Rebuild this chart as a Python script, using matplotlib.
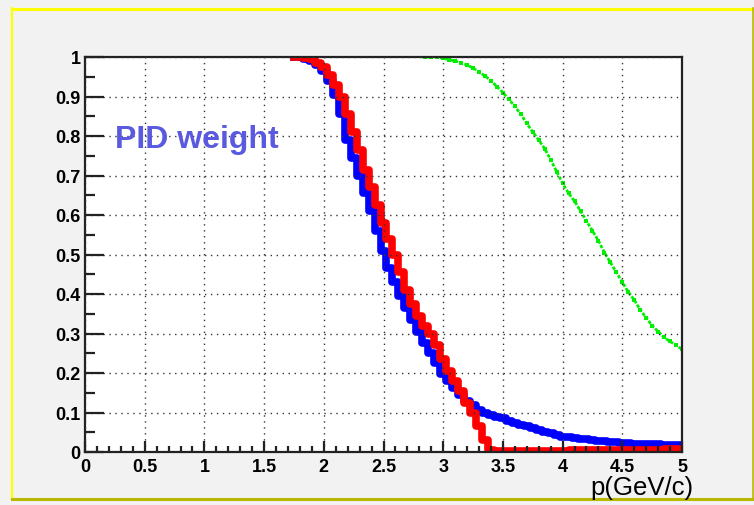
import matplotlib.pyplot as plt
from matplotlib.lines import Line2D
from matplotlib.ticker import MultipleLocator, FixedLocator, FixedFormatter

# momentum bins (GeV/c)
p_blue = [1.75, 1.80, 1.85, 1.90, 1.95, 2.00, 2.05, 2.10, 2.15, 2.20,
          2.25, 2.30, 2.35, 2.40, 2.45, 2.50, 2.55, 2.60, 2.65, 2.70,
          2.75, 2.80, 2.85, 2.90, 2.95, 3.00, 3.05, 3.10, 3.15, 3.20,
          3.25, 3.30, 3.35, 3.40, 3.45, 3.50, 3.55, 3.60, 3.65, 3.70,
          3.75, 3.80, 3.85, 3.90, 3.95, 4.00, 4.05, 4.10, 4.15, 4.20,
          4.25, 4.30, 4.35, 4.40, 4.45, 4.50, 4.55, 4.60, 4.65, 4.70,
          4.75, 4.80, 4.85, 4.90, 4.95, 5.00]
w_blue = [1.0, 1.0, 0.995, 0.99, 0.98, 0.965, 0.94, 0.905, 0.855, 0.79,
          0.745, 0.70, 0.655, 0.61, 0.56, 0.51, 0.465, 0.43, 0.395, 0.365,
          0.335, 0.305, 0.275, 0.25, 0.225, 0.198, 0.18, 0.162, 0.145, 0.13,
          0.118, 0.107, 0.099, 0.093, 0.089, 0.086, 0.079, 0.074, 0.069, 0.065,
          0.061, 0.055, 0.05, 0.047, 0.043, 0.039, 0.037, 0.035, 0.034, 0.032,
          0.03, 0.028, 0.027, 0.026, 0.025, 0.023, 0.022, 0.021, 0.02, 0.02,
          0.019, 0.019, 0.018, 0.018, 0.017, 0.018]

p_red = [1.75, 1.80, 1.85, 1.90, 1.95, 2.00, 2.05, 2.10, 2.15, 2.20,
         2.25, 2.30, 2.35, 2.40, 2.45, 2.50, 2.55, 2.60, 2.65, 2.70,
         2.75, 2.80, 2.85, 2.90, 2.95, 3.00, 3.05, 3.10, 3.15, 3.20,
         3.25, 3.30, 3.35, 3.40, 3.45, 3.50, 3.60, 3.70, 3.80, 3.90,
         4.00, 4.10, 4.20, 4.30, 4.40, 4.50, 4.60, 4.70, 4.80, 4.90, 5.00]
w_red = [1.0, 1.0, 0.998, 0.995, 0.985, 0.975, 0.955, 0.93, 0.90, 0.855,
         0.81, 0.765, 0.715, 0.67, 0.625, 0.58, 0.54, 0.50, 0.455, 0.41,
         0.375, 0.345, 0.32, 0.30, 0.27, 0.235, 0.205, 0.18, 0.155, 0.125,
         0.10, 0.065, 0.03, 0.006, 0.003, 0.003, 0.003, 0.003, 0.003, 0.003,
         0.003, 0.004, 0.004, 0.005, 0.005, 0.006, 0.006, 0.006, 0.006, 0.007, 0.007]

p_green = [2.85, 2.90, 2.95, 3.00, 3.05, 3.10, 3.15, 3.20, 3.25, 3.30,
           3.35, 3.40, 3.45, 3.50, 3.55, 3.60, 3.65, 3.70, 3.75, 3.80,
           3.85, 3.90, 3.95, 4.00, 4.05, 4.10, 4.15, 4.20, 4.25, 4.30,
           4.35, 4.40, 4.45, 4.50, 4.55, 4.60, 4.65, 4.70, 4.75, 4.80,
           4.85, 4.90, 4.95, 5.00]
w_green = [1.0, 1.0, 1.0, 0.997, 0.993, 0.99, 0.985, 0.98, 0.972, 0.962,
           0.952, 0.94, 0.925, 0.91, 0.893, 0.875, 0.855, 0.832, 0.81, 0.79,
           0.768, 0.74, 0.71, 0.68, 0.655, 0.635, 0.61, 0.585, 0.56, 0.535,
           0.505, 0.48, 0.455, 0.43, 0.405, 0.385, 0.36, 0.34, 0.32, 0.305,
           0.29, 0.28, 0.27, 0.26]

xtick_vals = [0, 0.5, 1, 1.5, 2, 2.5, 3, 3.5, 4, 4.5, 5]
xtick_labels = ['0', '0.5', '1', '1.5', '2', '2.5', '3', '3.5', '4', '4.5', '5']
ytick_vals = [0, 0.1, 0.2, 0.3, 0.4, 0.5, 0.6, 0.7, 0.8, 0.9, 1]
ytick_labels = ['0', '0.1', '0.2', '0.3', '0.4', '0.5', '0.6', '0.7', '0.8', '0.9', '1']

plt.rcParams['font.family'] = ['Liberation Sans', 'DejaVu Sans']

W, H = 754, 506
fig = plt.figure(figsize=(W / 100, H / 100), dpi=100, facecolor='#f2f2f2')

# canvas frame: bright top/left, dark bottom/right
fig.add_artist(Line2D([12 / W, 753 / W], [1 - 9.5 / H, 1 - 9.5 / H],
                      transform=fig.transFigure, color='#ffff00', lw=2.2))
fig.add_artist(Line2D([12 / W, 12 / W], [1 - 9 / H, 1 - 500 / H],
                      transform=fig.transFigure, color='#ffff00', lw=1.6))
fig.add_artist(Line2D([12 / W, 753 / W], [1 - 500 / H, 1 - 500 / H],
                      transform=fig.transFigure, color='#b8b800', lw=2.2))
fig.add_artist(Line2D([753 / W, 753 / W], [1 - 9 / H, 1 - 500 / H],
                      transform=fig.transFigure, color='#b8b800', lw=1.2))

ax = fig.add_axes([85 / W, 53 / H, 597 / W, 395 / H])
ax.set_facecolor('white')

ax.plot(p_green, w_green, color='#00ee00', lw=2.0, linestyle=(0, (1.2, 0.6)),
        marker='s', ms=3.0, mew=0)
ax.step(p_blue, w_blue, where='mid', color='#0000ff', lw=5.5)
ax.step(p_red, w_red, where='mid', color='#ff0000', lw=5.5)

ax.set_xlim(0, 5)
ax.set_ylim(0, 1)

ax.xaxis.set_major_locator(FixedLocator(xtick_vals))
ax.xaxis.set_major_formatter(FixedFormatter(xtick_labels))
ax.yaxis.set_major_locator(FixedLocator(ytick_vals))
ax.yaxis.set_major_formatter(FixedFormatter(ytick_labels))
ax.xaxis.set_minor_locator(MultipleLocator(0.1))
ax.yaxis.set_minor_locator(MultipleLocator(0.05))

ax.tick_params(which='both', direction='in', top=False, right=False,
               color='#222222', width=1.6)
ax.tick_params(axis='y', which='major', length=14, pad=3)
ax.tick_params(axis='y', which='minor', length=7)
ax.tick_params(axis='x', which='major', length=8, pad=4)
ax.tick_params(axis='x', which='minor', length=4.5)
for lab in ax.get_xticklabels() + ax.get_yticklabels():
    lab.set_fontweight('bold')
    lab.set_fontsize(13)

for s in ax.spines.values():
    s.set_color('#222222')
    s.set_linewidth(1.6)

ax.grid(True, which='major', color='#333333', lw=1.0, linestyle=(0, (1, 3.3)))
ax.set_axisbelow(False)

ax.text(0.25, 0.772, 'PID weight', color='#5a5ae0', fontsize=23,
        fontweight='bold', ha='left', va='baseline')

fig.text(693 / W, 1 - 488 / H, 'p(GeV/c)', fontsize=18.5, ha='right', va='center')

fig.savefig('out.png', dpi=100, facecolor=fig.get_facecolor())
